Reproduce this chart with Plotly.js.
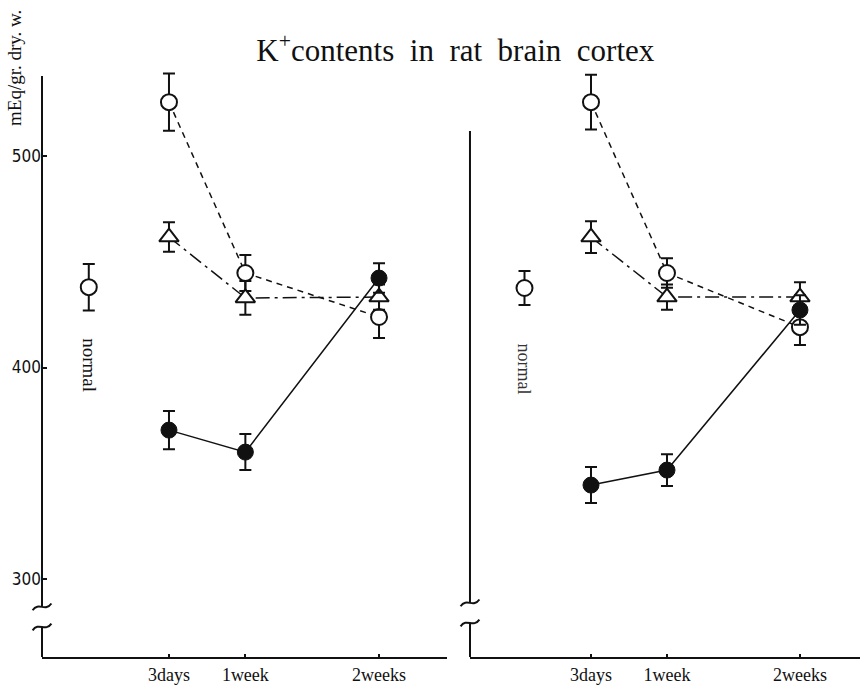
<!DOCTYPE html>
<html>
<head>
<meta charset="utf-8">
<script src="https://cdn.plot.ly/plotly-3.0.1.min.js"></script>
<style>html,body{margin:0;padding:0;background:#fff;}#chart{width:864px;height:690px;}</style>
</head>
<body>
<div id="chart"></div>
<script>
// ---- data ----
const days = [3, 7, 14];
const tickLabels = ['3days', '1week', '2weeks'];
const yTicks = [300, 400, 500];

// left panel
const normalXL = [-1.2];
const normalL = [438];
const normalLErr = [11];
const openL = [525.5, 444.7, 423.9];
const openLErr = [13.5, 8.5, 10];
const triL = [461.7, 432.9, 433.3];
const triLErr = [7, 8, 6];
const fillL = [370.4, 360.0, 442.3];
const fillLErr = [9, 8.5, 7];

// right panel
const normalXR = [-0.5];
const normalR = [437.6];
const normalRErr = [8];
const openR = [525.5, 444.7, 419.1];
const openRErr = [13, 7, 8.5];
const triR = [461.7, 433.3, 433.3];
const triRErr = [7.5, 6, 7];
const fillR = [344.4, 351.5, 427.2];
const fillRErr = [8.5, 7.5, 7];

// ---- styles ----
const BLK = '#111';
function err(a){ return {type:'data', array:a, visible:true, color:BLK, thickness:2, width:6}; }
const openMarker = {symbol:'circle', size:16, color:'#fff', line:{color:BLK, width:2}};
const triMarker = {symbol:'triangle-up', size:17, color:'#fff', line:{color:BLK, width:2}};
const fillMarker = {symbol:'circle', size:16, color:BLK, line:{color:BLK, width:1}};

function panel(xa, nx, ny, ne, o, oe, t, te, f, fe){
  return [
    {x:nx, y:ny, xaxis:xa, yaxis:'y', mode:'markers', marker:openMarker, error_y:err(ne), cliponaxis:false},
    {x:days, y:o, xaxis:xa, yaxis:'y', mode:'lines+markers', line:{color:BLK, width:1.5, dash:'6px,5px'}, marker:openMarker, error_y:err(oe), cliponaxis:false},
    {x:days, y:t, xaxis:xa, yaxis:'y', mode:'lines+markers', line:{color:BLK, width:1.5, dash:'14px,5px,3px,5px'}, marker:triMarker, error_y:err(te), cliponaxis:false},
    {x:days, y:f, xaxis:xa, yaxis:'y', mode:'lines+markers', line:{color:BLK, width:1.5}, marker:fillMarker, error_y:err(fe), cliponaxis:false}
  ];
}

const data = [].concat(
  panel('x', normalXL, normalL, normalLErr, openL, openLErr, triL, triLErr, fillL, fillLErr),
  panel('x2', normalXR, normalR, normalRErr, openR, openRErr, triR, triRErr, fillR, fillRErr)
);

const serif = 'Liberation Serif, DejaVu Serif, serif';
const xCommon = {
  tickmode:'array', tickvals:days, ticktext:tickLabels,
  ticks:'inside', ticklen:3, tickwidth:2, tickcolor:BLK,
  showline:true, linecolor:BLK, linewidth:2,
  showgrid:false, zeroline:false, fixedrange:true,
  tickfont:{family:serif, size:18, color:BLK}
};

// axis line geometry (y values)
const yMin = 263.1, yMax = 573.8;
const breakL = [286.8, 277.3], breakR = [288.7, 279.2];
const topL = 537.8, topR = 511.8;
const xR = 0.5232;
function squiggle(x0, yv){
  const dx = 0.0115, dy = 1.6;
  return 'M ' + (x0-dx) + ',' + (yv-dy) + ' C ' + (x0-0.004) + ',' + (yv+dy*1.6) + ' ' + (x0+0.004) + ',' + (yv-dy*1.6) + ' ' + (x0+dx) + ',' + (yv+dy);
}
const shapes = [
  {type:'line', xref:'paper', yref:'y', x0:0, x1:0, y0:topL, y1:breakL[0], line:{color:BLK, width:2}},
  {type:'line', xref:'paper', yref:'y', x0:0, x1:0, y0:breakL[1], y1:yMin, line:{color:BLK, width:2}},
  {type:'path', xref:'paper', yref:'y', path:squiggle(0, breakL[0]), line:{color:BLK, width:2}},
  {type:'path', xref:'paper', yref:'y', path:squiggle(0, breakL[1]), line:{color:BLK, width:2}},
  {type:'line', xref:'paper', yref:'y', x0:xR, x1:xR, y0:topR, y1:breakR[0], line:{color:BLK, width:2}},
  {type:'line', xref:'paper', yref:'y', x0:xR, x1:xR, y0:breakR[1], y1:yMin, line:{color:BLK, width:2}},
  {type:'path', xref:'paper', yref:'y', path:squiggle(xR, breakR[0]), line:{color:BLK, width:2}},
  {type:'path', xref:'paper', yref:'y', path:squiggle(xR, breakR[1]), line:{color:BLK, width:2}}
];

const layout = {
  width:864, height:690,
  margin:{l:42, r:4, t:0, b:33},
  paper_bgcolor:'#fff', plot_bgcolor:'rgba(0,0,0,0)',
  showlegend:false,
  title:{text:'K<sup>+</sup>contents&nbsp; in&nbsp; rat&nbsp; brain&nbsp; cortex', x:0.527, xanchor:'center', y:0.927, yanchor:'middle', font:{family:serif, size:31, color:BLK}},
  xaxis:Object.assign({}, xCommon, {domain:[0, 0.4951], range:[-3.65, 17.56]}),
  xaxis2:Object.assign({}, xCommon, {domain:[0.5232, 1], range:[-3.37, 17.16], anchor:'y'}),
  yaxis:{
    range:[yMin, yMax], domain:[0,1],
    tickmode:'array', tickvals:yTicks,
    ticks:'inside', ticklen:5, tickwidth:2, tickcolor:BLK,
    showline:false, showgrid:false, zeroline:false, fixedrange:true,
    tickfont:{family:'DejaVu Sans Condensed, DejaVu Sans, sans-serif', size:17, color:BLK}
  },
  shapes:shapes,
  annotations:[
    {text:'mEq/gr. dry. w.', xref:'paper', yref:'paper', x:-0.033, y:0.8965, xanchor:'center', yanchor:'middle', textangle:-90, showarrow:false, font:{family:serif, size:19, color:BLK}},
    {text:'normal', xref:'x', yref:'y', x:normalXL[0], y:401.2, textangle:90, showarrow:false, xanchor:'center', yanchor:'middle', font:{family:serif, size:19, color:BLK}},
    {text:'normal', xref:'x2', yref:'y', x:normalXR[0], y:399.3, textangle:90, showarrow:false, xanchor:'center', yanchor:'middle', font:{family:serif, size:18, color:'#333'}}
  ]
};

Plotly.newPlot('chart', data, layout, {displayModeBar:false, staticPlot:true});
</script>
</body>
</html>
